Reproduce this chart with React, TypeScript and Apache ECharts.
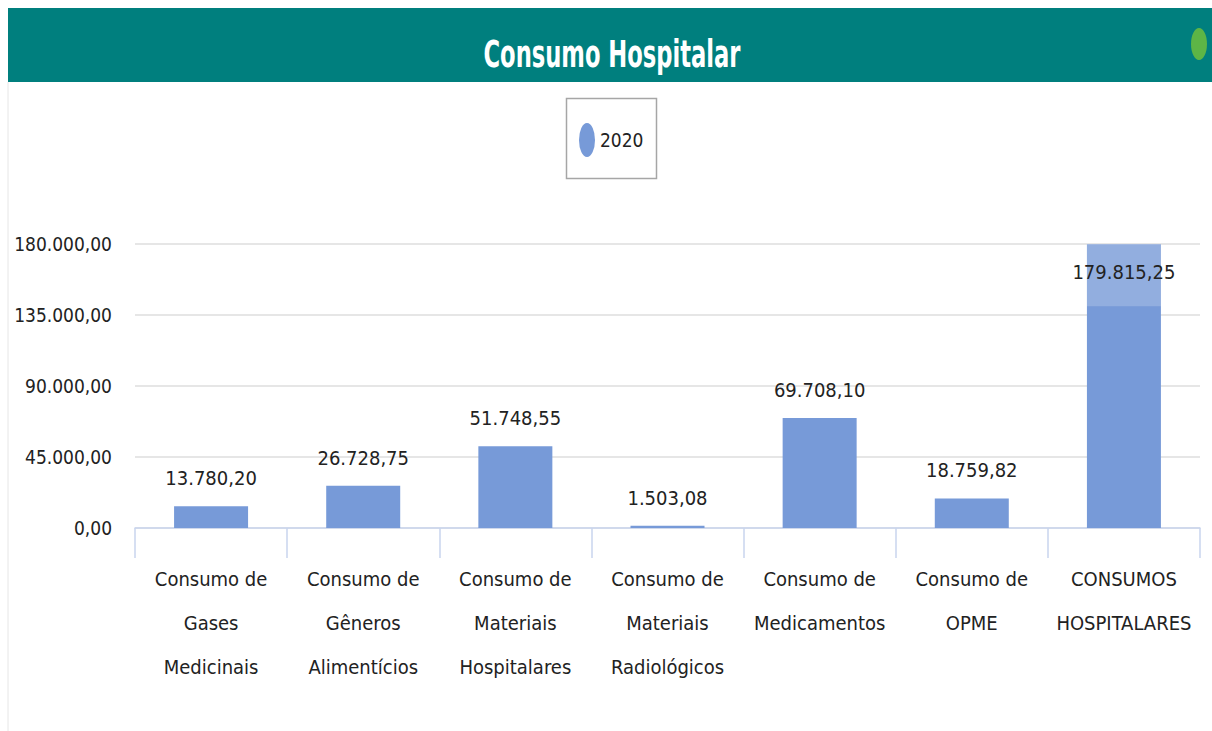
import React, { useEffect, useRef } from "react";
import * as echarts from "echarts";

const categories = [
  "Consumo de\nGases\nMedicinais",
  "Consumo de\nGêneros\nAlimentícios",
  "Consumo de\nMateriais\nHospitalares",
  "Consumo de\nMateriais\nRadiológicos",
  "Consumo de\nMedicamentos",
  "Consumo de\nOPME",
  "CONSUMOS\nHOSPITALARES",
];
const values2020 = [13780.2, 26728.75, 51748.55, 1503.08, 69708.1, 18759.82, 179815.25];
const seriesName = "2020";
const titleText = "Consumo Hospitalar";

const FONT = "'DejaVu Sans Condensed', 'Liberation Sans Narrow', sans-serif";

function fmt(v: number): string {
  const fixed = v.toFixed(2);
  const [intPart, dec] = fixed.split(".");
  const withSep = intPart.replace(/\B(?=(\d{3})+(?!\d))/g, ".");
  return withSep + "," + dec;
}

export default function App() {
  const ref = useRef<HTMLDivElement>(null);
  useEffect(() => {
    if (!ref.current) return;
    const chart = echarts.init(ref.current, undefined, { renderer: "svg" });
    const maxIdx = values2020.indexOf(Math.max(...values2020));
    chart.setOption({
      animation: false,
      backgroundColor: "#ffffff",
      textStyle: { fontFamily: FONT },
      graphic: [
        { type: "rect", shape: { x: 8, y: 8, width: 1204, height: 74 }, style: { fill: "#007f7e" } },
        { type: "line", shape: { x1: 8, y1: 82, x2: 8, y2: 731 }, style: { stroke: "#e6e6e6", lineWidth: 1 } },
        {
          type: "text",
          x: 612,
          y: 54,
          scaleX: 0.68,
          style: {
            text: titleText,
            fill: "#ffffff",
            font: "bold 37px " + FONT,
            align: "center",
            verticalAlign: "middle",
          },
        },
        { type: "ellipse", shape: { cx: 1199, cy: 44, rx: 8, ry: 16 }, style: { fill: "#5db546" } },
        { type: "rect", shape: { x: 566.5, y: 98.5, width: 90, height: 80 }, style: { fill: "none", stroke: "#a6a6a6", lineWidth: 1.5 } },
      ],
      legend: {
        show: true,
        data: [{ name: seriesName, icon: "path://M10 0A10 10 0 1 1 10 20A10 10 0 1 1 10 0Z" }],
        symbolKeepAspect: false,
        left: 579,
        top: 123,
        itemWidth: 16,
        itemHeight: 34,
        itemGap: 8,
        padding: 0,
        textStyle: { fontSize: 19, color: "#222", fontFamily: FONT },
      },
      grid: { left: 135, right: 12, top: 244, bottom: 203, containLabel: false },
      xAxis: {
        type: "category",
        data: categories,
        axisLine: { lineStyle: { color: "#c9d5ee", width: 1.5 } },
        axisTick: { show: true, alignWithLabel: false, length: 30, lineStyle: { color: "#c9d5ee", width: 1.5 } },
        axisLabel: {
          interval: 0,
          margin: 29,
          fontSize: 20,
          lineHeight: 44,
          color: "#222",
          fontFamily: FONT,
        },
      },
      yAxis: {
        type: "value",
        min: 0,
        max: 180000,
        interval: 45000,
        axisLine: { show: false },
        axisTick: { show: false },
        splitLine: { lineStyle: { color: "#e6e6e6", width: 2 } },
        axisLabel: {
          formatter: (v: number) => fmt(v),
          fontSize: 19,
          margin: 23,
          color: "#222",
          fontFamily: FONT,
        },
      },
      series: [
        {
          name: seriesName,
          type: "bar",
          barWidth: 74,
          itemStyle: { color: "#779ad8" },
          data: values2020.map((v, i) =>
            i === maxIdx
              ? {
                  value: v,
                  label: {
                    position: "insideTop",
                    distance: 0,
                    backgroundColor: "rgba(255,255,255,0.2)",
                    padding: [18, 0, 24, 0],
                    width: 74,
                    align: "center",
                  },
                }
              : v
          ),
          label: {
            show: true,
            position: "top",
            distance: 18,
            formatter: (p: any) => fmt(p.value),
            fontSize: 20,
            color: "#222",
            fontFamily: FONT,
          },
        },
      ],
    });
    return () => chart.dispose();
  }, []);
  return <div ref={ref} style={{ width: 1212, height: 731, position: "absolute", left: 0, top: 0 }} />;
}
